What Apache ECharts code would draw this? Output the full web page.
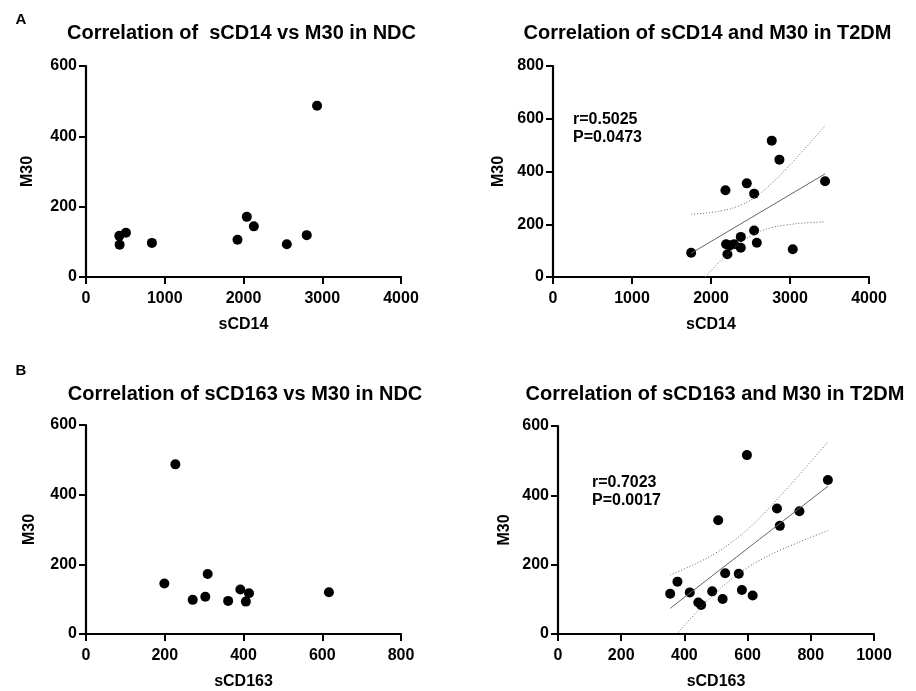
<!DOCTYPE html>
<html><head><meta charset="utf-8">
<script src="https://cdn.jsdelivr.net/npm/echarts@6/dist/echarts.min.js"></script>
<style>html,body{margin:0;padding:0;background:#fff}#c{width:916px;height:691px}</style>
</head><body><div id="c"></div>
<script>
// Panel A left: NDC sCD14 vs M30
const ndcSCD14 = [423, 427, 507, 837, 1924, 2042, 2131, 2550, 2803, 2934];
const ndcM30a  = [117, 92, 126, 97, 106, 171, 144, 93, 119, 487];
// Panel A right: T2DM sCD14 vs M30
const t2dmSCD14 = [1749, 2191, 2208, 2293, 2377, 2377, 2546, 2580, 3035, 2183, 2453, 2546, 3444, 2769, 2866, 2240];
const t2dmM30a  = [92, 124, 86, 124, 152, 111, 176, 130, 105, 329, 355, 316, 363, 517, 445, 120];
const fitA_X = [1749, 3444];
const fitA_Y = [90, 391];
const bandA_X = [1749, 1950, 2150, 2350, 2550, 2750, 2950, 3150, 3444];
const bandA_Up = [238, 243, 252, 269, 301, 350, 409, 474, 573];
const bandA_Lo = [-58, 8, 70, 124, 163, 186, 197, 204, 209];
// Panel B left: NDC sCD163 vs M30
const ndcSCD163 = [227, 199, 309, 271, 303, 361, 392, 414, 406, 617];
const ndcM30b   = [487, 145, 172, 98, 107, 95, 128, 117, 93, 120];
// Panel B right: T2DM sCD163 vs M30
const t2dmSCD163 = [355, 378, 417, 444, 453, 488, 507, 521, 529, 572, 582, 598, 616, 693, 702, 764, 854];
const t2dmM30b   = [116, 151, 120, 91, 84, 123, 328, 101, 175, 174, 127, 516, 111, 362, 312, 354, 444];
const fitB_X = [355, 854];
const fitB_Y = [74, 426];
const bandB_X = [355, 400, 450, 500, 550, 600, 650, 700, 750, 800, 854];
const bandB_Up = [170, 188, 209, 234, 265, 302, 346, 395, 445, 497, 554];
const bandB_Lo = [-21, 25, 74, 120, 159, 192, 218, 241, 260, 279, 298];

const titles = ['Correlation of  sCD14 vs M30 in NDC', 'Correlation of sCD14 and M30 in T2DM',
                'Correlation of sCD163 vs M30 in NDC', 'Correlation of sCD163 and M30 in T2DM'];
const xNames = ['sCD14', 'sCD14', 'sCD163', 'sCD163'];
const stats = ['r=0.5025\nP=0.0473', 'r=0.7023\nP=0.0017'];

const FONT = '"Liberation Sans", Arial, Helvetica, sans-serif';
const zip = (a, b) => a.map((v, i) => [v, b[i]]);

const grids = [
  {left: 86, top: 66, width: 315, height: 211},
  {left: 553, top: 66, width: 316, height: 211},
  {left: 86, top: 425, width: 315, height: 211},
  {left: 558, top: 426, width: 316, height: 210}
];
const xCfg = [{max: 4000, interval: 1000}, {max: 4000, interval: 1000}, {max: 800, interval: 200}, {max: 1000, interval: 200}];
const yCfg = [{max: 600, interval: 200}, {max: 800, interval: 200}, {max: 600, interval: 200}, {max: 600, interval: 200}];
const yNameGap = [50, 46, 48, 45];

const axisCommon = {
  axisLine: {show: true, onZero: false, lineStyle: {color: '#000', width: 2.2}},
  axisTick: {show: true, inside: false, length: 7, lineStyle: {color: '#000', width: 2}},
  splitLine: {show: false},
  nameTextStyle: {color: '#000', fontFamily: FONT, fontWeight: 'bold', fontSize: 16}
};
const plain = v => String(v);

const xAxis = xCfg.map((c, i) => Object.assign({}, axisCommon, {
  type: 'value', gridIndex: i, min: 0, max: c.max, interval: c.interval,
  name: xNames[i], nameLocation: 'middle', nameGap: 40,
  axisLabel: {color: '#000', fontFamily: FONT, fontWeight: 'bold', fontSize: 16, margin: 14, formatter: plain}
}));
const yAxis = yCfg.map((c, i) => Object.assign({}, axisCommon, {
  type: 'value', gridIndex: i, min: 0, max: c.max, interval: c.interval,
  name: 'M30', nameLocation: 'middle', nameGap: yNameGap[i],
  axisLabel: {color: '#000', fontFamily: FONT, fontWeight: 'bold', fontSize: 16, margin: 9, formatter: plain}
}));

const dot = {type: 'scatter', symbol: 'circle', symbolSize: 10, itemStyle: {color: '#000', opacity: 1}, silent: true};
const fitStyle = {type: 'line', symbol: 'none', silent: true, lineStyle: {color: '#666', width: 1}};
const bandStyle = {type: 'line', symbol: 'none', silent: true, smooth: 0.4, clip: true,
                   lineStyle: {color: '#666', width: 1, type: [1, 2]}};

const series = [
  Object.assign({}, bandStyle, {xAxisIndex: 1, yAxisIndex: 1, data: zip(bandA_X, bandA_Up)}),
  Object.assign({}, bandStyle, {xAxisIndex: 1, yAxisIndex: 1, data: zip(bandA_X, bandA_Lo)}),
  Object.assign({}, fitStyle, {xAxisIndex: 1, yAxisIndex: 1, data: zip(fitA_X, fitA_Y)}),
  Object.assign({}, bandStyle, {xAxisIndex: 3, yAxisIndex: 3, data: zip(bandB_X, bandB_Up)}),
  Object.assign({}, bandStyle, {xAxisIndex: 3, yAxisIndex: 3, data: zip(bandB_X, bandB_Lo)}),
  Object.assign({}, fitStyle, {xAxisIndex: 3, yAxisIndex: 3, data: zip(fitB_X, fitB_Y)}),
  Object.assign({}, dot, {xAxisIndex: 0, yAxisIndex: 0, data: zip(ndcSCD14, ndcM30a)}),
  Object.assign({}, dot, {xAxisIndex: 1, yAxisIndex: 1, data: zip(t2dmSCD14, t2dmM30a)}),
  Object.assign({}, dot, {xAxisIndex: 2, yAxisIndex: 2, data: zip(ndcSCD163, ndcM30b)}),
  Object.assign({}, dot, {xAxisIndex: 3, yAxisIndex: 3, data: zip(t2dmSCD163, t2dmM30b)})
];

const titlePos = [[241.5, 33], [707.5, 33], [245, 394], [715, 394]];
const txt = (x, y, text, size, extra) => ({type: 'text', x: x, y: y, silent: true,
  style: Object.assign({text: text, fill: '#000', fontFamily: FONT, fontWeight: 'bold', fontSize: size,
    align: 'center', verticalAlign: 'middle'}, extra || {})});
const graphic = titles.map((t, i) => txt(titlePos[i][0], titlePos[i][1], t, 20));
graphic.push(txt(21, 20, 'A', 15));
graphic.push(txt(21, 371, 'B', 15));
graphic.push(txt(573, 128.5, stats[0], 16, {align: 'left', lineHeight: 18}));
graphic.push(txt(592, 491.5, stats[1], 16, {align: 'left', lineHeight: 18}));

const chart = echarts.init(document.getElementById('c'), null, {renderer: 'canvas'});
chart.setOption({
  animation: false,
  backgroundColor: '#fff',
  grid: grids,
  xAxis: xAxis,
  yAxis: yAxis,
  series: series,
  graphic: graphic
});
</script></body></html>
